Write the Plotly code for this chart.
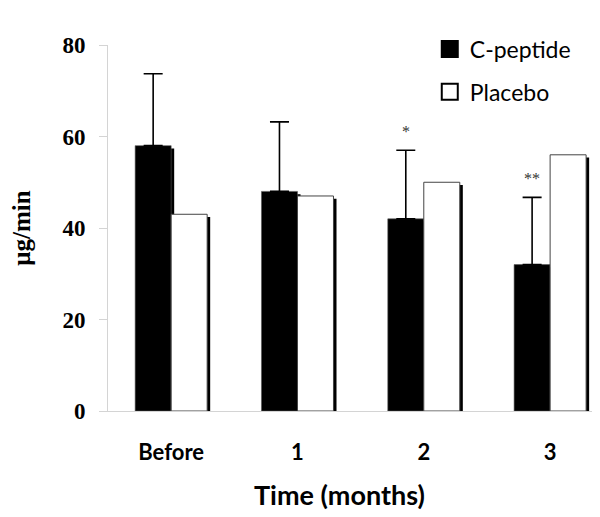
import plotly.graph_objects as go

# ---- data ----
time_labels = ["Before", "1", "2", "3"]
cpeptide = [58, 48, 42, 32]
cpeptide_upper = [73.7, 63.2, 57.0, 46.7]
placebo = [43, 47, 50, 56]
significance = ["", "", "*", "**"]
y_ticks = [0, 20, 40, 60, 80]

# ---- styling ----
BAR_W = 0.285          # bar width in category units
SH_DX = 0.024          # shadow horizontal offset (category units)
SH_DY = 0.6            # shadow vertical drop (data units)
SANS = "Lato"
SERIF = "Liberation Serif"

cp_err = [u - v for u, v in zip(cpeptide_upper, cpeptide)]
cp_shadow = [v - SH_DY for v in cpeptide]
pl_shadow = [v - SH_DY for v in placebo]

fig = go.Figure()

# shadows
fig.add_trace(go.Bar(x=time_labels, y=cp_shadow, offset=-BAR_W + SH_DX, width=BAR_W,
                     marker=dict(color="black", line=dict(width=0)),
                     showlegend=False, hoverinfo="skip"))
# C-peptide bars
fig.add_trace(go.Bar(x=time_labels, y=cpeptide, offset=-BAR_W, width=BAR_W,
                     name="C-peptide",
                     marker=dict(color="black", line=dict(color="#555", width=0.6)),
                     error_y=dict(type="data", symmetric=False, array=cp_err,
                                  arrayminus=[0] * len(cp_err),
                                  color="black", thickness=1.6, width=9.5),
                     showlegend=False))
fig.add_trace(go.Bar(x=time_labels, y=pl_shadow, offset=SH_DX, width=BAR_W,
                     marker=dict(color="black", line=dict(width=0)),
                     showlegend=False, hoverinfo="skip"))
fig.add_trace(go.Bar(x=time_labels, y=placebo, offset=0, width=BAR_W,
                     name="Placebo",
                     marker=dict(color="white", line=dict(color="#444", width=1)),
                     showlegend=False))

# legend entries
fig.add_trace(go.Scatter(x=[None], y=[None], mode="markers", name="C-peptide",
                         legendgroup="a",
                         marker=dict(symbol="square", size=20, color="black",
                                     line=dict(color="black", width=2))))
fig.add_trace(go.Scatter(x=[None], y=[None], mode="markers", name="Placebo",
                         legendgroup="b",
                         marker=dict(symbol="square", size=20, color="white",
                                     line=dict(color="black", width=2))))

# significance markers
for lab, top, s in zip(time_labels, cpeptide_upper, significance):
    if s:
        fig.add_annotation(x=lab, y=top, text=s, showarrow=False,
                           xshift=-BAR_W / 2 * 126.3, yshift=8, yanchor="bottom",
                           font=dict(family=SERIF, size=16, color="#333"))

# x-axis title (placed slightly left of the plot centre, as in the reference)
fig.add_annotation(x=0.4715, y=-0.227, xref="paper", yref="paper",
                   text="Time (months)", showarrow=False,
                   xanchor="center", yanchor="middle",
                   font=dict(family=SANS, size=27, color="black", weight="bold"))

fig.update_layout(
    width=592, height=509,
    margin=dict(l=100, r=0, t=37, b=106),
    paper_bgcolor="white", plot_bgcolor="white",
    barmode="overlay",
    legend=dict(x=0.654, y=1.048, xanchor="left", yanchor="top",
                font=dict(family=SANS, size=23, color="black"),
                tracegroupgap=10, bgcolor="rgba(0,0,0,0)"),
    xaxis=dict(type="category", range=[-0.5, 3.395],
               showline=True, linecolor="#d4d4d4", linewidth=1,
               ticks="", showgrid=False, zeroline=False,
               ticklabelstandoff=22,
               tickfont=dict(family=SANS, size=22, color="black", weight="bold")),
    yaxis=dict(range=[0, 80], tickvals=y_ticks,
               showline=True, linecolor="#d4d4d4", linewidth=1,
               ticks="outside", ticklen=8, tickcolor="#d4d4d4",
               showgrid=False, zeroline=False, ticklabelstandoff=9,
               tickfont=dict(family=SERIF, size=23, color="black", weight="bold"),
               title=dict(text="μg/min", standoff=27,
                          font=dict(family=SERIF, size=25, color="black", weight="bold"))),
)

fig.write_html("out.html")
